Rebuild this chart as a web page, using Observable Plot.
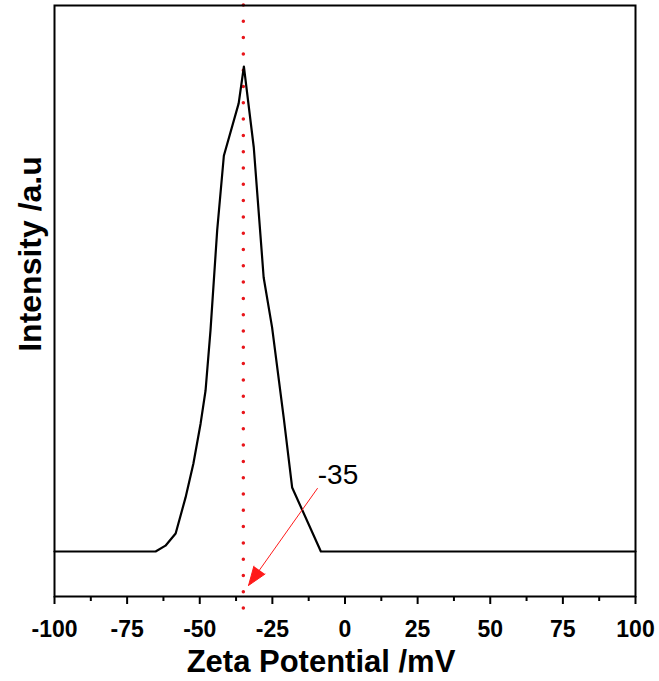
<!DOCTYPE html>
<html>
<head>
<meta charset="utf-8">
<script src="https://cdn.jsdelivr.net/npm/d3@7"></script>
<script src="https://cdn.jsdelivr.net/npm/@observablehq/plot@0.6"></script>
<style>
  html, body { margin: 0; padding: 0; background: #fff; }
</style>
</head>
<body>
<div id="chart"></div>
<script>
// Zeta potential distribution
const zeta =      [-100, -65.2, -61.8, -58.3, -54.9, -52.2, -49.7, -48.0, -46.3, -44.0, -41.7, -36.6, -34.8, -31.4, -28.0, -25.1, -21.1, -18.2, -8.3, 100];
const intensity = [0,     0,     0.012, 0.037, 0.111, 0.181, 0.264, 0.332, 0.456, 0.662, 0.816, 0.924, 1.0,   0.833, 0.565, 0.462, 0.276, 0.132, 0,   0];

const majorTicks = [-100, -75, -50, -25, 0, 25, 50, 75, 100];
const minorTicks = [-87.5, -62.5, -37.5, -12.5, 12.5, 37.5, 62.5, 87.5];

const peakValue = -35;
const peakLabel = "-35";
const peakLineExtent = [1.1258, -0.126];
const arrowFrom = {x: -9.5, y: 0.13};
const arrowTo = {x: -33.2, y: -0.07};
const labelPos = {x: -2.4, y: 0.157};

const xTitle = "Zeta Potential /mV";
const yTitle = "Intensity /a.u";

const data = zeta.map((z, i) => ({zeta: z, intensity: intensity[i]}));

const sans = "'Liberation Sans', Arial, Helvetica, sans-serif";

const chart = Plot.plot({
  width: 659,
  height: 681,
  marginLeft: 54,
  marginRight: 24,
  marginTop: 5,
  marginBottom: 85,
  style: {fontFamily: sans, background: "#fff", color: "#000"},
  x: {domain: [-100, 100]},
  y: {domain: [-0.0928, 1.1258], axis: null},
  marks: [
    Plot.axisX(minorTicks, {tickSize: 5, strokeWidth: 2, text: null, label: null}),
    Plot.axisX(majorTicks, {
      tickSize: 8, tickPadding: 16, strokeWidth: 2, fontSize: 23, fontWeight: "bold",
      label: null, tickFormat: d => String(d)
    }),
    Plot.ruleX([peakValue], {
      y1: peakLineExtent[0], y2: peakLineExtent[1],
      stroke: "#e8151b", strokeWidth: 3.5, strokeDasharray: "0,16.3", strokeLinecap: "round"
    }),
    Plot.line(data, {x: "zeta", y: "intensity", stroke: "#000", strokeWidth: 2.2, strokeLinejoin: "round"}),
    Plot.arrow([{}], {
      x1: () => arrowFrom.x, y1: () => arrowFrom.y,
      x2: () => arrowTo.x, y2: () => arrowTo.y,
      stroke: "#ff1a1a", fill: "#ff1a1a", strokeWidth: 1, headLength: 30, headAngle: 40
    }),
    Plot.text([peakLabel], {
      x: () => labelPos.x, y: () => labelPos.y, text: d => d,
      fontSize: 28, textAnchor: "middle", lineAnchor: "middle", fill: "#000"
    }),
    Plot.text([xTitle], {
      frameAnchor: "bottom", dx: -24, dy: 66, text: d => d, textAnchor: "middle", lineAnchor: "middle",
      fontSize: 31, fontWeight: "bold"
    }),
    Plot.text([yTitle], {
      frameAnchor: "left", dx: -24, dy: -47, rotate: -90, text: d => d,
      textAnchor: "middle", lineAnchor: "middle",
      fontSize: 32, fontWeight: "bold"
    }),
    Plot.frame({stroke: "#000", strokeWidth: 2})
  ]
});

document.getElementById("chart").appendChild(chart);
</script>
</body>
</html>
